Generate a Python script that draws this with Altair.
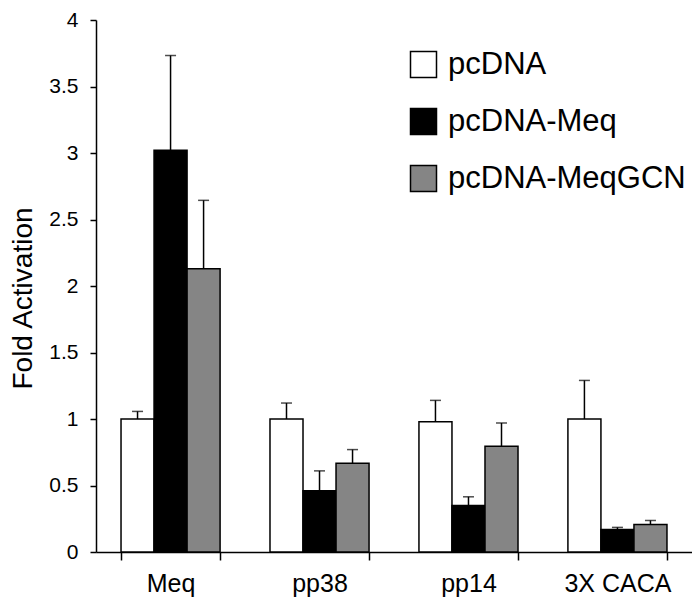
import altair as alt
import pandas as pd

categories = ["Meq", "pp38", "pp14", "3X CACA"]
series = ["pcDNA", "pcDNA-Meq", "pcDNA-MeqGCN"]
series_colors = ["#ffffff", "#000000", "#858585"]

pcdna_vals = [1.0, 1.0, 0.98, 1.0]
pcdna_err = [1.057, 1.12, 1.14, 1.29]
meq_vals = [3.02, 0.46, 0.35, 0.17]
meq_err = [3.733, 0.61, 0.415, 0.185]
gcn_vals = [2.13, 0.667, 0.795, 0.207]
gcn_err = [2.644, 0.77, 0.97, 0.237]

y_ticks = [0, 0.5, 1, 1.5, 2, 2.5, 3, 3.5, 4]

rows = []
for s, vals, errs in [(series[0], pcdna_vals, pcdna_err),
                      (series[1], meq_vals, meq_err),
                      (series[2], gcn_vals, gcn_err)]:
    for c, v, e in zip(categories, vals, errs):
        rows.append({"cat": c, "series": s, "value": v, "upper": e})
df = pd.DataFrame(rows)

FONT = "Liberation Sans"

x_enc = alt.X("cat:N", sort=categories,
              scale=alt.Scale(paddingInner=0.335, paddingOuter=0.168),
              axis=alt.Axis(title=None, labelAngle=0, labelFontSize=25,
                            labelPadding=11, tickBand="extent", tickSize=8,
                            labelColor="black", labelFont=FONT))
xo_enc = alt.XOffset("series:N", sort=series, scale=alt.Scale(paddingInner=0, paddingOuter=0))

bars = alt.Chart(df).mark_bar(stroke="black", strokeWidth=1.5, opacity=1).encode(
    x=x_enc,
    xOffset=xo_enc,
    y=alt.Y("value:Q", scale=alt.Scale(domain=[0, 4], nice=False),
            axis=alt.Axis(title="Fold Activation", values=y_ticks, format="~g",
                          grid=False, tickSize=6, labelPadding=12,
                          labelFontSize=21, labelColor="black", labelFont=FONT,
                          titleFontSize=28, titleFontWeight="normal",
                          titleColor="black", titleFont=FONT,
                          titleX=-59, titleY=278, titleAngle=270,
                          titleBaseline="bottom")),
    fill=alt.Fill("series:N", sort=series,
                  scale=alt.Scale(domain=series, range=series_colors),
                  legend=alt.Legend(title=None, orient="none", legendX=312, legendY=29,
                                    symbolType="square", symbolSize=676,
                                    symbolStrokeColor="black", symbolStrokeWidth=1.5,
                                    symbolOpacity=1, labelFontSize=31, labelFont=FONT,
                                    labelColor="black", labelOffset=9, rowPadding=24,
                                    padding=0, labelLimit=400)),
)

err_rule = alt.Chart(df).mark_rule(color="black", strokeWidth=1.5).encode(
    x=alt.X("cat:N", sort=categories),
    xOffset=xo_enc,
    y="value:Q",
    y2="upper:Q",
)

err_cap = alt.Chart(df).mark_tick(color="black", thickness=1.5, size=11, orient="horizontal").encode(
    x=alt.X("cat:N", sort=categories),
    xOffset=xo_enc,
    y="upper:Q",
)

chart = alt.layer(bars, err_rule, err_cap).properties(
    width=596, height=532,
    autosize=alt.AutoSizeParams(type="none"),
    padding={"left": 88, "top": 12, "right": 0, "bottom": 49},
).configure_view(stroke=None).configure_axis(
    domainColor="black", domainWidth=1.5, tickColor="black", tickWidth=1.5,
)

chart.save("out.html", embed_options={"renderer": "svg", "actions": False})
